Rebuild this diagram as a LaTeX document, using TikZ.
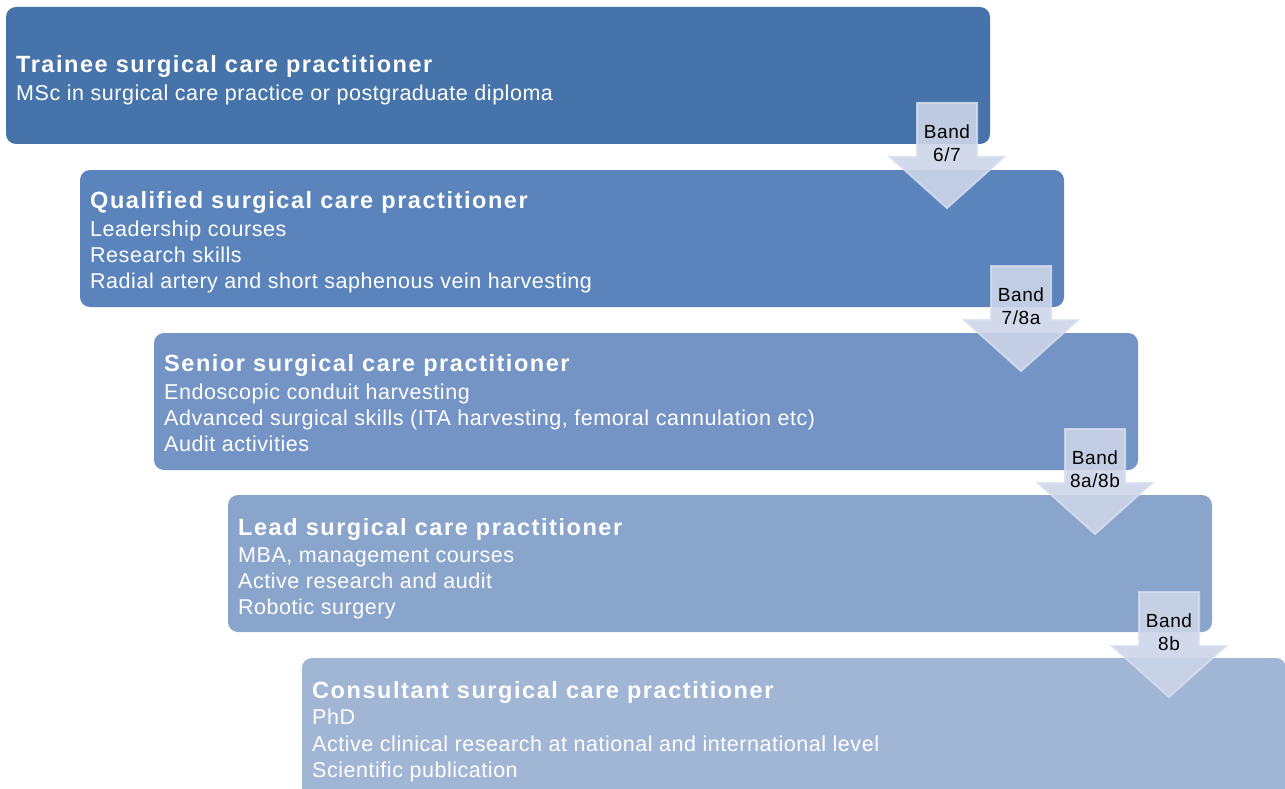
\documentclass[tikz,border=0pt]{standalone}
\usepackage{fontspec}
\setmainfont{Liberation Sans}
\definecolor{cA}{RGB}{70,116,170}
\definecolor{cB}{RGB}{90,132,187}
\definecolor{cC}{RGB}{115,148,196}
\definecolor{cD}{RGB}{138,165,204}
\definecolor{cE}{RGB}{161,181,213}
\definecolor{arrfill}{RGB}{204,213,232}
\definecolor{arredge}{RGB}{216,223,238}
\newfontfamily\bodyfont[LetterSpace=2.5]{Liberation Sans}
\newfontfamily\titlefont[LetterSpace=6.6]{Liberation Sans}
\newfontfamily\bandfont[LetterSpace=3]{Liberation Sans}
\newcommand{\ttl}[1]{{\titlefont\fontsize{23.5}{26}\selectfont\bfseries #1}}
\begin{document}
\begin{tikzpicture}[x=1pt,y=-1pt,
  stage/.style={rounded corners=10pt, fill=#1, draw=none, minimum width=984pt,
    minimum height=137pt, anchor=north west, inner sep=0pt, outer sep=0pt},
  stagetext/.style={anchor=north west, align=left, text=white, inner sep=0pt,
    font=\bodyfont\fontsize{21.5}{26}\selectfont},
  bandarrow/.style={fill=arrfill, fill opacity=0.9, draw=arredge, draw opacity=0.8, line width=2pt, line join=miter},
  bandtext/.style={align=center, text=black, inner sep=0pt, font=\bandfont\fontsize{19}{23}\selectfont}
]
\clip (0,0) rectangle (1285,789);
\fill[white] (0,0) rectangle (1285,789);

\node[stage=cA] (b1) at (6,7) {};
\node[stage=cB] (b2) at (80,170) {};
\node[stage=cC] (b3) at (154,333) {};
\node[stage=cD] (b4) at (228,495) {};
\node[stage=cE, minimum height=150pt] (b5) at (302,658) {};

\node[stagetext] (t1) at (16,55)
  {\ttl{Trainee surgical care practitioner}\\[2pt]
   MSc in surgical care practice or postgraduate diploma};
\node[stagetext] (t2) at (90,191)
  {\ttl{Qualified surgical care practitioner}\\[2pt]
   Leadership courses\\ Research skills\\ Radial artery and short saphenous vein harvesting};
\node[stagetext] (t3) at (164,354)
  {\ttl{Senior surgical care practitioner}\\[2pt]
   Endoscopic conduit harvesting\\ Advanced surgical skills (ITA harvesting, femoral cannulation etc)\\ Audit activities};
\node[stagetext] (t4) at (238,518)
  {\ttl{Lead surgical care practitioner}\\[1pt]
   MBA, management courses\\ Active research and audit\\ Robotic surgery};
\node[stagetext] (t5) at (312,681)
  {\ttl{Consultant surgical care practitioner}\\[0pt]
   PhD\\[1pt] Active clinical research at national and international level\\ Scientific publication};

\foreach \n/\x/\y/\lab in {a1/947/103/{Band\\6/7}, a2/1021/266/{Band\\7/8a}, a3/1095/429/{Band\\8a/8b}, a4/1169/592/{Band\\8b}}{
  \draw[bandarrow] (\x-30,\y) -- (\x+30,\y) -- (\x+30,\y+54) -- (\x+57,\y+54) -- (\x,\y+105)
     -- (\x-57,\y+54) -- (\x-30,\y+54) -- cycle;
  \node[bandtext] (\n) at (\x,\y+40) {\lab};
}
\end{tikzpicture}
\end{document}
